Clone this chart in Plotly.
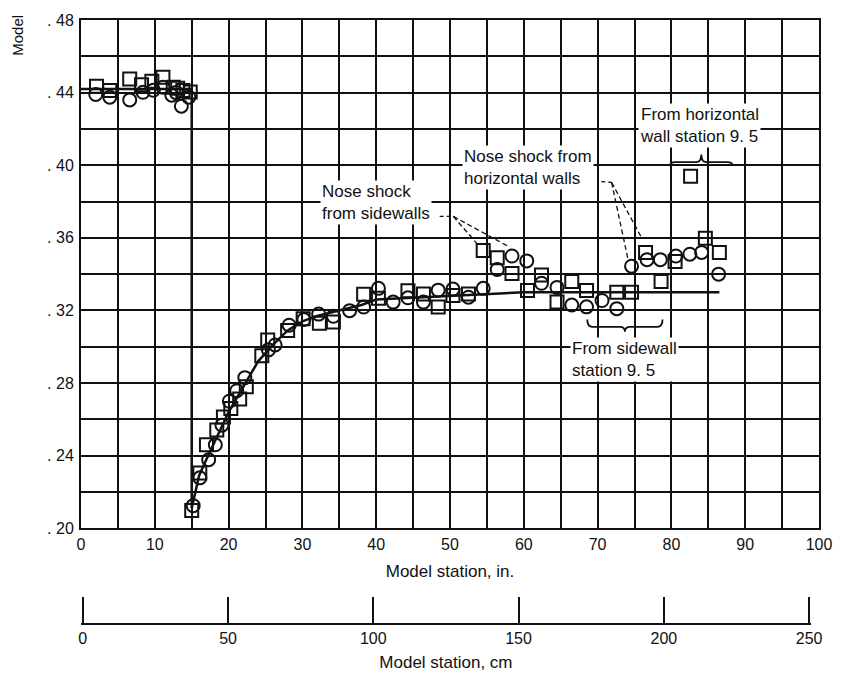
import plotly.graph_objects as go

# Model station (in.) and measured values, open squares
sq_x = [2.1, 3.9, 6.6, 8.2, 9.6, 11.1, 12.5, 13.1, 13.8, 14.8,
        15.0, 16.1, 17.0, 18.4, 19.3, 20.3, 21.5, 22.4, 24.5, 25.3,
        28.0, 30.1, 32.3, 34.2, 38.3, 40.3, 44.3, 46.4, 48.4, 50.4,
        52.5, 54.5, 56.4, 58.4, 60.5, 62.4, 64.5, 66.5, 68.5, 72.6,
        74.6, 76.5, 78.6, 80.5, 82.6, 84.6, 86.5]
sq_y = [0.4435, 0.4412, 0.4475, 0.4444, 0.4462, 0.4484, 0.4430, 0.4424, 0.4412, 0.4403,
        0.2098, 0.2305, 0.2460, 0.2541, 0.2613, 0.2660, 0.2712, 0.2780, 0.2950, 0.3038,
        0.3090, 0.3155, 0.3130, 0.3137, 0.3290, 0.3268, 0.3309, 0.3291, 0.3219, 0.3282,
        0.3291, 0.3530, 0.3490, 0.3403, 0.3310, 0.3395, 0.3246, 0.3360, 0.3310, 0.3300,
        0.3300, 0.3520, 0.3360, 0.3470, 0.3940, 0.3598, 0.3520]

# Open circles
ci_x = [2.0, 3.9, 6.6, 8.4, 9.8, 11.1, 12.3, 12.9, 13.6, 14.6,
        15.2, 16.1, 17.3, 18.2, 19.1, 20.1, 21.1, 22.2, 25.4, 26.3,
        28.2, 30.2, 32.2, 34.2, 36.4, 38.3, 40.3, 42.3, 44.3, 46.4,
        48.4, 50.4, 52.5, 54.5, 56.4, 58.4, 60.4, 62.4, 64.5, 66.5,
        68.5, 70.6, 72.6, 74.6, 76.7, 78.5, 80.6, 82.5, 84.1, 86.4]
ci_y = [0.4390, 0.4375, 0.4360, 0.4402, 0.4413, 0.4430, 0.4386, 0.4400, 0.4325, 0.4375,
        0.2125, 0.2278, 0.2378, 0.2460, 0.2568, 0.2700, 0.2758, 0.2830, 0.2983, 0.3010,
        0.3119, 0.3150, 0.3180, 0.3168, 0.3199, 0.3219, 0.3322, 0.3246, 0.3270, 0.3246,
        0.3312, 0.3318, 0.3273, 0.3322, 0.3426, 0.3500, 0.3473, 0.3350, 0.3327, 0.3230,
        0.3220, 0.3255, 0.3210, 0.3444, 0.3480, 0.3480, 0.3500, 0.3510, 0.3520, 0.3400]

# Faired curve
line_x = [0, 15, 15, 16, 17, 18, 19, 20, 21, 22, 24, 26, 28, 30, 32, 34, 36, 38, 40,
          45, 50, 55, 60, 70, 80, 86.5]
line_y = [0.442, 0.442, 0.211, 0.229, 0.238, 0.247, 0.256, 0.264, 0.271, 0.278, 0.292,
          0.301, 0.309, 0.314, 0.317, 0.319, 0.321, 0.323, 0.326, 0.327, 0.328, 0.329,
          0.330, 0.330, 0.330, 0.330]

# Axis ticks
x_ticks = list(range(0, 101, 5))
x_labels = {0: "0", 10: "10", 20: "20", 30: "30", 40: "40", 50: "50",
            60: "60", 70: "70", 80: "80", 90: "90", 100: "100"}
y_ticks = [0.20, 0.22, 0.24, 0.26, 0.28, 0.30, 0.32, 0.34, 0.36, 0.38,
           0.40, 0.42, 0.44, 0.46, 0.48]
y_labels = {0.20: ". 20", 0.24: ". 24", 0.28: ". 28", 0.32: ". 32",
            0.36: ". 36", 0.40: ". 40", 0.44: ". 44", 0.48: ". 48"}
cm_ticks = [0, 50, 100, 150, 200, 250]
cm_labels = ["0", "50", "100", "150", "200", "250"]
IN_TO_CM = 2.54

# Callout text (left edge x, middle y)
notes = [
    ("Nose shock<br>from sidewalls", 32.4, 0.3795),
    ("Nose shock from<br>horizontal walls", 51.6, 0.3990),
    ("From horizontal<br>wall station 9. 5", 75.5, 0.4218),
    ("From sidewall<br>station 9. 5", 66.3, 0.2930),
]
# Dashed leaders: start, elbow, then the points they reach
leaders = [
    ((48.6, 0.3718), (50.45, 0.3718), [(53.6, 0.3571), (57.9, 0.3553)]),
    ((70.5, 0.3910), (71.9, 0.3905), [(74.1, 0.3486), (76.0, 0.3598)]),
]
# Braces: x0, x1, bar y, tip y, end y
braces = [
    (79.8, 88.3, 0.4017, 0.4059, 0.3996),
    (68.6, 78.8, 0.3110, 0.3083, 0.3150),
]

FONT = "Liberation Sans, Arial, sans-serif"
INK = "#111111"
W, H = 844, 681
ML, MR, MT, MB = 81, 25, 12, 57

fig = go.Figure()
fig.add_trace(go.Scatter(x=line_x, y=line_y, mode="lines",
                         line=dict(color=INK, width=2.5), hoverinfo="skip"))
fig.add_trace(go.Scatter(x=sq_x, y=sq_y, mode="markers",
                         marker=dict(symbol="square-open", size=13, color=INK,
                                     line=dict(width=2, color=INK))))
fig.add_trace(go.Scatter(x=ci_x, y=ci_y, mode="markers",
                         marker=dict(symbol="circle-open", size=13, color=INK,
                                     line=dict(width=2, color=INK))))
# carrier for the centimetre scale
fig.add_trace(go.Scatter(x=[0, cm_ticks[-1]], y=[0, 0], xaxis="x2", yaxis="y2",
                         mode="markers", marker=dict(opacity=0), hoverinfo="skip"))

for text, x, y in notes:
    fig.add_annotation(x=x, y=y, xref="x", yref="y", text=text, showarrow=False,
                       xanchor="left", yanchor="middle", align="left",
                       bgcolor="white", borderpad=1,
                       font=dict(family=FONT, size=17, color=INK))

for start, elbow, ends in leaders:
    fig.add_shape(type="line", x0=start[0], y0=start[1], x1=elbow[0], y1=elbow[1],
                  xref="x", yref="y", line=dict(color=INK, width=1.3, dash="4px,3px"))
    for ex, ey in ends:
        fig.add_shape(type="line", x0=elbow[0], y0=elbow[1], x1=ex, y1=ey,
                      xref="x", yref="y", line=dict(color=INK, width=1.3, dash="5px,3px"))

for x0, x1, yb, yt, ye in braces:
    xm = (x0 + x1) / 2
    r = 0.7
    path = (f"M {x0},{ye} Q {x0},{yb} {x0 + r},{yb} L {xm - r},{yb} "
            f"Q {xm},{yb} {xm},{yt} Q {xm},{yb} {xm + r},{yb} "
            f"L {x1 - r},{yb} Q {x1},{yb} {x1},{ye}")
    fig.add_shape(type="path", path=path, xref="x", yref="y",
                  line=dict(color=INK, width=1.8))

# truncated y-axis caption in the top-left corner
fig.add_annotation(x=(18 - ML) / (W - ML - MR), y=1 + (MT - 27) / (H - MT - MB),
                   xref="paper", yref="paper", text="Model", showarrow=False,
                   textangle=-90, xanchor="center", yanchor="middle",
                   font=dict(family=FONT, size=15, color=INK))

grid = dict(showgrid=True, gridcolor=INK, gridwidth=1.5, zeroline=False,
            showline=True, linecolor=INK, linewidth=2, mirror=True, ticks="")

# centimetre scale: pad the range a little so the end ticks are drawn
cm_pad = 0.6
cm_span = cm_ticks[-1] + 2 * cm_pad

fig.update_layout(
    width=W, height=H,
    margin=dict(l=ML, r=MR, t=MT, b=MB),
    paper_bgcolor="white", plot_bgcolor="white",
    showlegend=False,
    font=dict(family=FONT, color=INK),
    xaxis=dict(range=[0, 100], domain=[0, 1], anchor="y",
               tickvals=x_ticks, ticktext=[x_labels.get(v, "") for v in x_ticks],
               tickfont=dict(size=16),
               title=dict(text="Model station, in.", font=dict(size=17), standoff=14),
               **grid),
    yaxis=dict(range=[0.20, 0.48], domain=[0.157, 1], anchor="x",
               tickvals=y_ticks, ticktext=[y_labels.get(round(v, 2), "") for v in y_ticks],
               tickfont=dict(size=16), ticklabelstandoff=2,
               **grid),
    xaxis2=dict(range=[-cm_pad, cm_ticks[-1] + cm_pad],
                domain=[0, cm_span / (100 * IN_TO_CM)], anchor="y2",
                tickvals=cm_ticks, ticktext=cm_labels, ticks="inside",
                ticklen=26, tickwidth=2, tickcolor=INK,
                showline=True, linecolor=INK, linewidth=2, showgrid=False,
                zeroline=False, tickfont=dict(size=16),
                title=dict(text="Model station, cm", font=dict(size=17), standoff=10)),
    yaxis2=dict(domain=[0, 0.001], anchor="x2", visible=False, range=[0, 1]),
)

fig.write_html("out.html")
